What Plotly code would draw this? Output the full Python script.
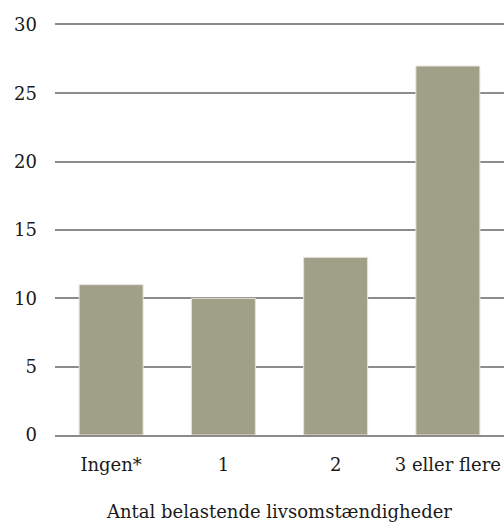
import plotly.graph_objects as go

categories = ["Ingen*", "1", "2", "3 eller flere"]
values = [11, 10, 13, 27]
y_ticks = [0, 5, 10, 15, 20, 25, 30]

font_family = "DejaVu Serif"
grid_color = "#8c8c8c"

fig = go.Figure(
    go.Bar(
        x=categories,
        y=values,
        marker=dict(color="#a09f87", line=dict(color="#e6e5dc", width=1)),
        hoverinfo="skip",
    )
)

fig.update_layout(
    width=504,
    height=523,
    margin=dict(l=55, r=0, t=25, b=88),
    paper_bgcolor="white",
    plot_bgcolor="white",
    bargap=0.43,
    showlegend=False,
    font=dict(family=font_family, size=18, color="#1a1a1a"),
    xaxis=dict(
        title=dict(text="Antal belastende livsomstændigheder", standoff=32,
                   font=dict(size=18)),
        showgrid=False,
        # mirrored axis line draws the top (30) and bottom (0) rules
        showline=True,
        linecolor=grid_color,
        linewidth=2,
        mirror=True,
        ticks="",
        ticklabelstandoff=12,
    ),
    yaxis=dict(
        range=[0, 30],
        tickvals=y_ticks,
        showgrid=True,
        gridcolor=grid_color,
        gridwidth=2,
        zeroline=False,
        showline=False,
        ticks="",
        ticklabelstandoff=17,
    ),
)

fig.write_html("out.html")
